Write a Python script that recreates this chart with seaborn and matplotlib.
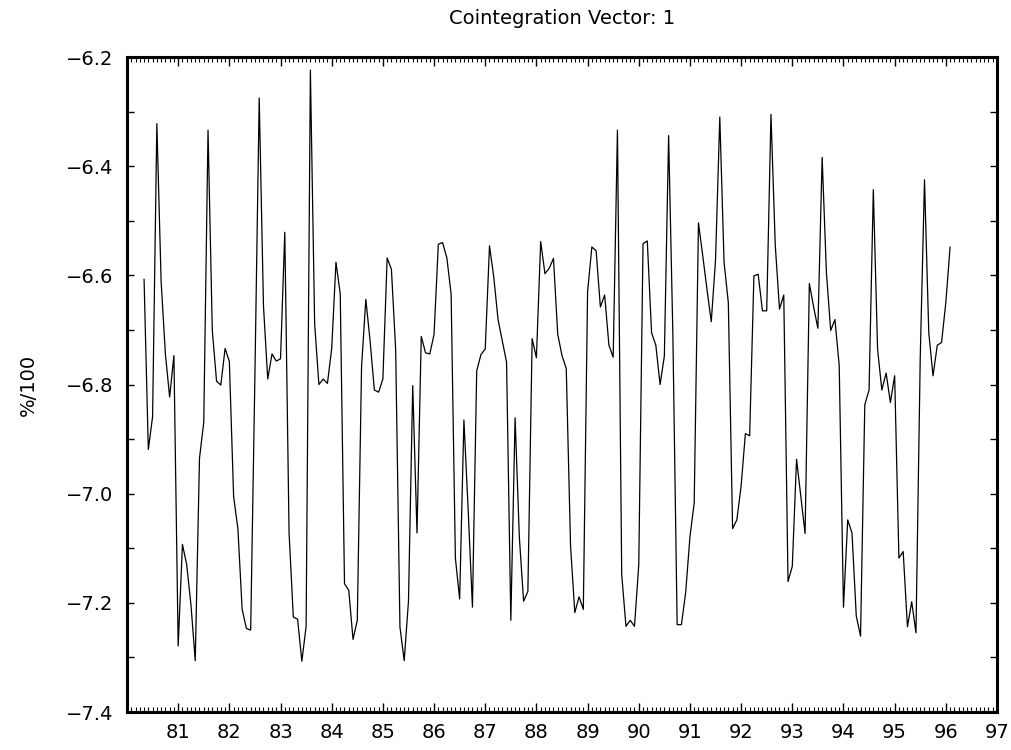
import numpy as np
import matplotlib
matplotlib.use("Agg")
import matplotlib.pyplot as plt
import seaborn as sns
from matplotlib.ticker import FixedLocator, MultipleLocator

# ---- data (monthly observations, first one at 80 + 4/12) ----
start_year = 80 + 4 / 12
vals_a = [-6.607, -6.919, -6.859, -6.322, -6.611, -6.744, -6.823, -6.747, -7.279, -7.093,
          -7.130, -7.204, -7.306, -6.935, -6.869, -6.334, -6.701, -6.794, -6.801, -6.734,
          -6.758, -7.005, -7.064, -7.212, -7.247, -7.250, -6.780, -6.275, -6.656, -6.790]
vals_b = [-6.744, -6.757, -6.753, -6.521, -7.072, -7.226, -7.230, -7.307, -7.243, -6.224,
          -6.689, -6.800, -6.790, -6.798, -6.734, -6.576, -6.634, -7.165, -7.177, -7.267,
          -7.232, -6.767, -6.644, -6.720, -6.810, -6.814, -6.790, -6.568, -6.589, -6.736]
vals_c = [-7.244, -7.306, -7.197, -6.802, -7.072, -6.712, -6.742, -6.744, -6.708, -6.543,
          -6.540, -6.568, -6.634, -7.118, -7.193, -6.865, -7.030, -7.208, -6.775, -6.745,
          -6.735, -6.546, -6.603, -6.681, -6.720, -6.759, -7.232, -6.861, -7.080, -7.197]
vals_d = [-7.179, -6.716, -6.751, -6.538, -6.597, -6.587, -6.569, -6.708, -6.747, -6.771,
          -7.095, -7.218, -7.189, -7.212, -6.630, -6.548, -6.555, -6.658, -6.636, -6.728,
          -6.750, -6.334, -7.148, -7.243, -7.232, -7.243, -7.130, -6.542, -6.537, -6.705]
vals_e = [-6.728, -6.800, -6.748, -6.344, -6.710, -7.240, -7.240, -7.181, -7.079, -7.017,
          -6.504, -6.564, -6.626, -6.685, -6.572, -6.310, -6.576, -6.650, -7.064, -7.048,
          -6.986, -6.890, -6.894, -6.601, -6.598, -6.665, -6.665, -6.305, -6.544, -6.662]
vals_f = [-6.636, -7.161, -7.133, -6.937, -7.005, -7.073, -6.615, -6.658, -6.697, -6.384,
          -6.595, -6.701, -6.681, -6.765, -7.208, -7.048, -7.072, -7.224, -7.261, -6.837,
          -6.810, -6.443, -6.736, -6.810, -6.779, -6.833, -6.784, -7.118, -7.106, -7.244]
vals_g = [-7.198, -7.255, -6.751, -6.425, -6.705, -6.784, -6.728, -6.723, -6.650, -6.548]

x_tick_labels = [str(y) for y in range(81, 98)]
y_ticks = [-7.4, -7.2, -7.0, -6.8, -6.6, -6.4, -6.2]
title = "Cointegration Vector: 1"
y_label = "%/100"

values = np.array(vals_a + vals_b + vals_c + vals_d + vals_e + vals_f + vals_g)
years = start_year + np.arange(len(values)) / 12.0

# ---- plot ----
sns.set_style("ticks")
plt.rcParams["font.family"] = ["DejaVu Sans"]
plt.rcParams["text.color"] = "black"
plt.rcParams["axes.labelcolor"] = "black"
plt.rcParams["xtick.color"] = "black"
plt.rcParams["ytick.color"] = "black"

W, H = 1011, 750
fig = plt.figure(figsize=(W / 100, H / 100), dpi=100)
ax = fig.add_axes([127 / W, 1 - 712 / H, 870 / W, 655 / H])

sns.lineplot(x=years, y=values, ax=ax, color="black", linewidth=0.9)

ax.set_xlim(80, 97)
ax.set_ylim(-7.4, -6.2)
ax.xaxis.set_major_locator(FixedLocator(list(range(81, 98))))
ax.set_xticklabels(x_tick_labels)
ax.xaxis.set_minor_locator(FixedLocator(list(np.arange(80, 97.0001, 1 / 12))))
ax.yaxis.set_major_locator(FixedLocator(y_ticks))
ax.yaxis.set_minor_locator(MultipleLocator(0.1))

ax.tick_params(which="both", direction="in", top=True, right=True,
               labeltop=False, labelright=False, color="black", labelcolor="black")
ax.tick_params(axis="x", which="major", length=6.5, width=1.0, labelsize=14, pad=8)
ax.tick_params(axis="x", which="minor", length=3.6, width=0.8)
ax.tick_params(axis="y", which="both", length=5, width=1.0, labelsize=14, pad=10)

for s in ax.spines.values():
    s.set_linewidth(2.2)
    s.set_color("black")

ax.set_xlabel("")
ax.set_ylabel(y_label, fontsize=14, va="center", color="black")
ax.yaxis.set_label_coords((28 - 127) / 870, 0.5)

fig.text(562 / W, 1 - 18 / H, title, ha="center", va="center", fontsize=14, color="black")

fig.savefig("out.png", dpi=100, facecolor="white")
